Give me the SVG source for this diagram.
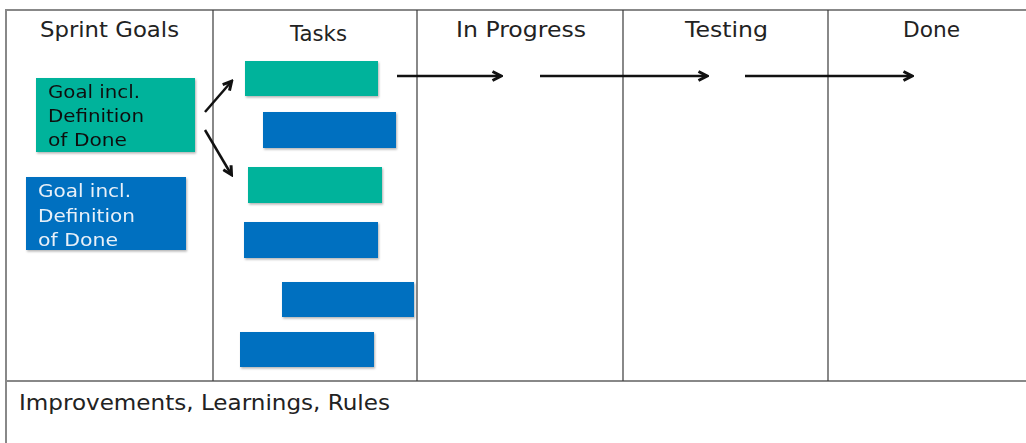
<svg xmlns="http://www.w3.org/2000/svg" width="1026" height="443" viewBox="0 0 1026 443">
<style>
.grid{stroke:#888;stroke-width:2;fill:none}
.col{stroke:#3a3a3a;stroke-width:1.2}
.hd{font-family:"DejaVu Sans",Verdana,sans-serif;font-size:20.5px;fill:#222}
.gt{font-family:"DejaVu Sans",Verdana,sans-serif;font-size:18px}
.teal{fill:#00B39B}
.blue{fill:#0070C0}
.conn{stroke:#111;stroke-width:2.5;fill:none;marker-end:url(#ah)}
</style>
<defs>
<marker id="ah" markerWidth="12" markerHeight="12" refX="9" refY="6" orient="auto" markerUnits="userSpaceOnUse"><path d="M1.5,1.5 L10,6 L1.5,10.5" fill="none" stroke="#111" stroke-width="3"/></marker>
<filter id="sh" x="-5%" y="-10%" width="115%" height="130%"><feDropShadow dx="1" dy="1.5" stdDeviation="1" flood-color="#000" flood-opacity="0.3"/></filter>
</defs>
<rect width="1026" height="443" fill="#fff"/>
<g id="board">
<path class="grid" d="M1026,10 H6 V443"/>
<line class="grid" x1="6" y1="381" x2="1026" y2="381"/>
<line class="col" x1="213" y1="10" x2="213" y2="381"/>
<line class="col" x1="417" y1="10" x2="417" y2="381"/>
<line class="col" x1="623" y1="10" x2="623" y2="381"/>
<line class="col" x1="828" y1="10" x2="828" y2="381"/>
<text class="hd" x="40" y="37" textLength="139" lengthAdjust="spacingAndGlyphs">Sprint Goals</text>
<text class="hd" x="290" y="41" textLength="57" lengthAdjust="spacingAndGlyphs">Tasks</text>
<text class="hd" x="456" y="37" textLength="130" lengthAdjust="spacingAndGlyphs">In Progress</text>
<text class="hd" x="685" y="37" textLength="83" lengthAdjust="spacingAndGlyphs">Testing</text>
<text class="hd" x="903" y="37" textLength="57" lengthAdjust="spacingAndGlyphs">Done</text>
<text x="19" y="410" font-family="'DejaVu Sans',Verdana,sans-serif" font-size="22" fill="#222" textLength="371" lengthAdjust="spacingAndGlyphs">Improvements, Learnings, Rules</text>
</g>
<g id="goal1" filter="url(#sh)">
<rect class="teal" x="36" y="78" width="159" height="74"/>
<text class="gt" fill="#111"><tspan x="48" y="98" textLength="92" lengthAdjust="spacingAndGlyphs">Goal incl.</tspan><tspan x="48" y="122" textLength="96" lengthAdjust="spacingAndGlyphs">Definition</tspan><tspan x="48" y="146" textLength="79" lengthAdjust="spacingAndGlyphs">of Done</tspan></text>
</g>
<g id="goal2" filter="url(#sh)">
<rect class="blue" x="26" y="177" width="160" height="73"/>
<text class="gt" fill="#e8f0f8"><tspan x="38" y="197" textLength="93" lengthAdjust="spacingAndGlyphs">Goal incl.</tspan><tspan x="38" y="222" textLength="97" lengthAdjust="spacingAndGlyphs">Definition</tspan><tspan x="38" y="246" textLength="80" lengthAdjust="spacingAndGlyphs">of Done</tspan></text>
</g>
<g id="task1" filter="url(#sh)"><rect class="teal" x="245" y="61" width="133" height="35"/></g>
<g id="task2" filter="url(#sh)"><rect class="blue" x="263" y="112" width="133" height="36"/></g>
<g id="task3" filter="url(#sh)"><rect class="teal" x="248" y="167" width="134" height="36"/></g>
<g id="task4" filter="url(#sh)"><rect class="blue" x="244" y="222" width="134" height="36"/></g>
<g id="task5" filter="url(#sh)"><rect class="blue" x="282" y="282" width="132" height="35"/></g>
<g id="task6" filter="url(#sh)"><rect class="blue" x="240" y="332" width="134" height="35"/></g>
<g id="connectors">
<line class="conn" x1="205" y1="112" x2="231" y2="82"/>
<line class="conn" x1="205" y1="130" x2="231" y2="174"/>
<line class="conn" x1="397" y1="76" x2="500" y2="76"/>
<line class="conn" x1="540" y1="76" x2="706" y2="76"/>
<line class="conn" x1="745" y1="76" x2="911" y2="76"/>
</g>
</svg>
